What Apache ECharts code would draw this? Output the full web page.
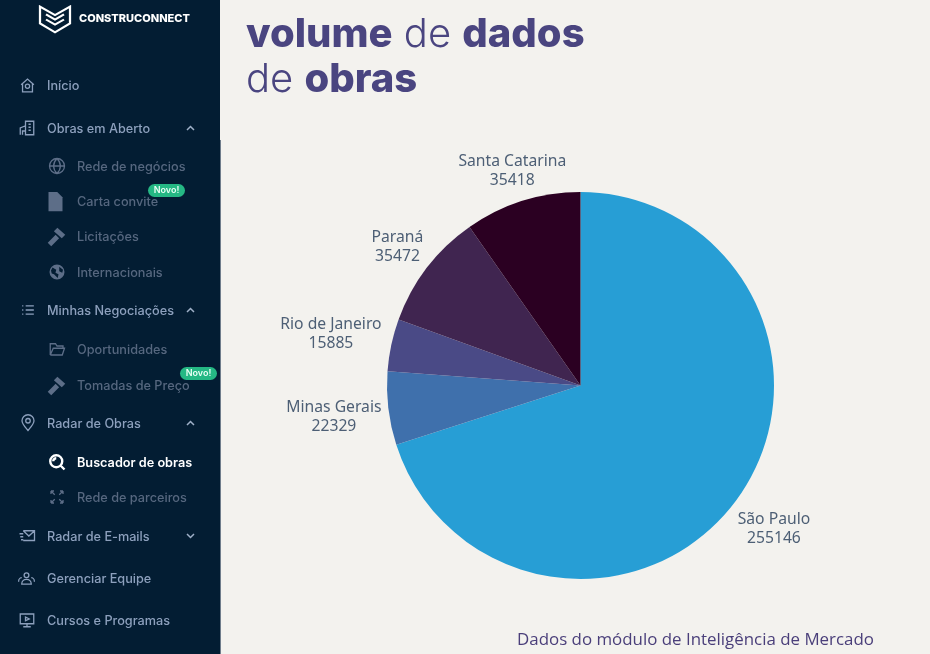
<!DOCTYPE html>
<html><head><meta charset="utf-8">
<style>html,body{margin:0;padding:0;background:#f3f2ee;overflow:hidden}#c{width:930px;height:654px}</style>
<script src="https://cdn.jsdelivr.net/npm/echarts@6/dist/echarts.min.js"></script>
</head><body><div id="c"></div>
<script>
const states = ['São Paulo','Minas Gerais','Rio de Janeiro','Paraná','Santa Catarina'];
const volumes = [255146,22329,15885,35472,35418];
const sliceColors = ['#279ed5','#3f70ac','#4a4a86','#402550','#2b0022'];
const labelNudges = [[28,27],[-44.5,8],[-50.5,-10],[-20.5,-18],[-3.5,-25]];

const navMain = [['Início',86],['Obras em Aberto',129],['Minhas Negociações',311],['Radar de Obras',424],['Radar de E-mails',537],['Gerenciar Equipe',579],['Cursos e Programas',621]];
const navSub = [['Rede de negócios',167],['Carta convite',202],['Licitações',237],['Internacionais',273],['Oportunidades',350],['Tomadas de Preço',386],['Rede de parceiros',498]];
const navActive = ['Buscador de obras',463];
const chevrons = [[128,'^'],[310,'^'],[423,'^'],[536,'v']];
const badges = [[148,190.5],[180,373.5]];

const P = {
 logo:'M2 2 12 8.5 22 2V15L12 22 2 15ZM6 8 12 12 18 8M6 12 12 16 18 12',
 home:'M3 11 12 3 21 11M5 10V21H19V10M9 13a3 3 0 1 0 6 0a3 3 0 1 0-6 0',
 bld:'M10 21V3H21V21ZM3 21V12L10 9M6 21V16H10M14 7h3M14 11h3M14 15h3',
 globe:'M2 12a10 10 0 1 0 20 0a10 10 0 1 0-20 0M2 12H22M12 2C6 8 6 16 12 22C18 16 18 8 12 2',
 list:'M8 5H22M8 12H22M8 19H22M2 5H4M2 12H4M2 19H4',
 folder:'M3 20V5H10L12 8H20V11M3 20H19L22 11H7L3 20',
 pin:'M12 22C7 16 4 13 4 9a8 8 0 0 1 16 0C20 13 17 16 12 22ZM9 9a3 3 0 1 0 6 0a3 3 0 1 0-6 0',
 expand:'M4 4 9 9M4 4V8M4 4H8M20 4 15 9M20 4V8M20 4H16M4 20 9 15M4 20V16M4 20H8M20 20 15 15M20 20V16M20 20H16',
 mail:'M7 5H22V18H7M7 5 14.5 12 22 5M2 9H7M3 13H7M4 17H7',
 team:'M9 8a3 3 0 1 0 6 0a3 3 0 1 0-6 0M6 19C6 11 18 11 18 19ZM2 16C2 12 5 11 6 11M22 16C22 12 19 11 18 11',
 screen:'M3 4H21V17H3ZM12 17V21M7 21H17M10 8 15 10.5 10 13Z',
 search:'M3 11a8 8 0 1 0 16 0a8 8 0 1 0-16 0M17 17 22 22M7 11a4 4 0 0 1 4-4',
 doc:'M4 1H14L20 7V23H4Z',
 hammer:'M13 2 22 10 18 14 9 6ZM11 10 15 14 6 23 2 19Z',
 earth:'M12 2a10 10 0 1 0 0.01 0ZM6 6 11 9 10 13 14 15 13 20 8 15 5 14 4 10ZM15 5 20 9 19 13 15 11Z'
};
Object.keys(P).forEach(k=>echarts.graphic.registerShape('p_'+k,echarts.graphic.extendPath(P[k],{})));
const icons = [
 ['home',19,77,17,'#8da0bd'],['bld',18,119,18,'#8da0bd'],['list',21,303,14,'#8da0bd'],['pin',19,414,18,'#8da0bd'],
 ['mail',18,527,18,'#8da0bd'],['team',17,569,19,'#8da0bd'],['screen',18,611,18,'#8da0bd'],
 ['globe',48,157,18,'#5d6e88'],['folder',48,340,18,'#5d6e88'],['expand',48,488,18,'#5d6e88'],['search',48,453,18,'#ffffff']
];
const fills = [['doc',45,191,21],['hammer',46,226,21],['earth',48,263,18],['hammer',46,375,21]];

const g = [];
g.push({type:'rect',shape:{x:0,y:0,width:220,height:654},style:{fill:'#031d33'},z:1});
g.push({type:'rect',shape:{x:220,y:140,width:1,height:514},style:{fill:'#6f7d8b'},z:1});
g.push({type:'p_logo',x:37,y:4,scaleX:36/24,scaleY:31/24,style:{fill:'none',stroke:'#fff',lineWidth:1.5},z:3});
g.push({type:'text',style:{text:'CONSTRUCONNECT',x:79,y:19,fill:'#fff',font:'800 11px Inter',verticalAlign:'middle'},z:3});
navMain.forEach(n=>g.push({type:'text',style:{text:n[0],x:47,y:n[1],fill:'#8da0bd',font:'500 12.7px Inter',verticalAlign:'middle'},z:3}));
navSub.forEach(n=>g.push({type:'text',style:{text:n[0],x:77,y:n[1],fill:'#56677f',font:'500 12.7px Inter',verticalAlign:'middle'},z:3}));
g.push({type:'text',style:{text:navActive[0],x:77,y:navActive[1],fill:'#fff',font:'600 12.7px Inter',verticalAlign:'middle'},z:3});
chevrons.forEach(c=>g.push({type:'polyline',shape:{points:c[1]==='^'?[[187,c[0]+2],[190.5,c[0]-1.5],[194,c[0]+2]]:[[187,c[0]-2],[190.5,c[0]+1.5],[194,c[0]-2]]},style:{fill:'none',stroke:'#9fb0c8',lineWidth:1.5},z:3}));
icons.forEach(i=>g.push({type:'p_'+i[0],x:i[1],y:i[2],scaleX:i[3]/24,scaleY:i[3]/24,style:{fill:'none',stroke:i[4],lineWidth:(i[0]==='search'?2.4:1.3)*24/i[3]},z:3}));
fills.forEach(i=>g.push({type:'p_'+i[0],x:i[1],y:i[2],scaleX:i[3]/24,scaleY:i[3]/24,style:{fill:'#5d6e88'},z:3}));
badges.forEach(b=>{
 g.push({type:'rect',shape:{x:b[0],y:b[1]-6.5,width:37,height:13,r:6.5},style:{fill:'#25b884'},z:4});
 g.push({type:'text',style:{text:'Novo!',x:b[0]+18.5,y:b[1],fill:'#eafff6',font:'600 9px Inter',align:'center',verticalAlign:'middle'},z:5});
});
const rich={b:{fontSize:40,fontWeight:800,fontFamily:'Inter',fill:'#4a4580'},l:{fontSize:40,fontWeight:300,fontFamily:'Inter',fill:'#4a4580'}};
g.push({type:'text',style:{text:'{b|volume}{l| de }{b|dados}',x:246,y:35,verticalAlign:'middle',rich},z:3});
g.push({type:'text',style:{text:'{l|de }{b|obras}',x:246,y:80,verticalAlign:'middle',rich},z:3});
g.push({type:'text',style:{text:'Dados do módulo de Inteligência de Mercado',x:517,y:640.5,fill:'#4a3f7a',font:'400 16.9px "Open Sans"',verticalAlign:'middle'},z:3});

const chart = echarts.init(document.getElementById('c'),null,{renderer:'canvas'});
chart.setOption({
 backgroundColor:'#f3f2ee',
 animation:false,
 tooltip:{show:false},
 graphic:{elements:g},
 series:[{type:'pie',center:[580.5,385.5],radius:[0,193.5],startAngle:90,clockwise:true,silent:true,
  avoidLabelOverlap:false,
  data:states.map((s,i)=>({name:s,value:volumes[i],itemStyle:{color:sliceColors[i]}})),
  label:{show:true,position:'outside',formatter:'{b}\n{c}',color:'#4d5f75',fontSize:15.7,lineHeight:19,fontFamily:'"Noto Sans"'},
  labelLine:{show:false,length:5,length2:0},
  labelLayout:p=>({align:'center',dx:labelNudges[p.dataIndex][0],dy:labelNudges[p.dataIndex][1]})
 }]
});
</script></body></html>
